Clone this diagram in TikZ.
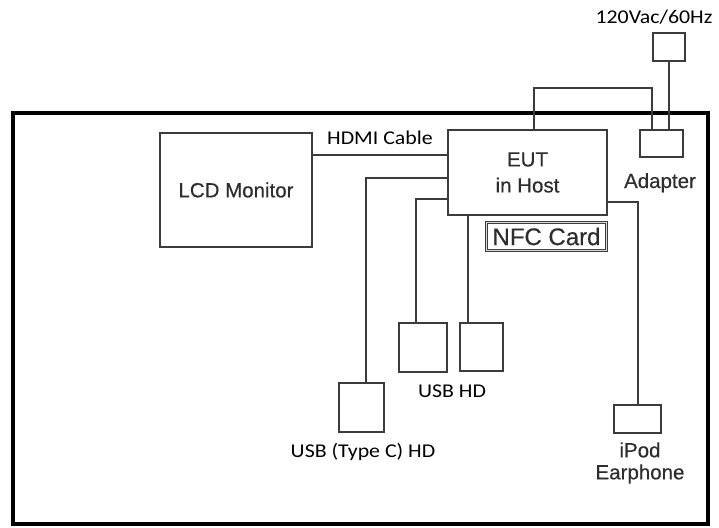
\documentclass[tikz,border=0pt]{standalone}
\usepackage{fontspec}
\setmainfont[FakeBold=0.4]{Liberation Sans}
\newfontfamily\calfont[FakeStretch=1.12]{Carlito}
\usetikzlibrary{positioning}
\definecolor{linegray}{RGB}{60,60,60}
\definecolor{textgray}{RGB}{45,45,45}

\begin{document}
\begin{tikzpicture}[x=1pt,y=-1pt,
  box/.style={draw=linegray,line width=1.9pt,inner sep=0pt,text=textgray},
  cable/.style={draw=linegray,line width=2pt},
  lbl/.style={inner sep=0pt,anchor=base,text=black,font=\calfont\fontsize{19.5}{22}\selectfont},
  every node/.style={font=\fontsize{20.5}{26}\selectfont}]
\useasboundingbox (0,0) rectangle (719,527);
\draw[line width=3.8pt] (13,113) rectangle (708,524);
\node[box,minimum width=152pt,minimum height=114pt] (lcd) at (236,190) {\raisebox{-6pt}{LCD Monitor}};
\node[box,minimum width=159pt,minimum height=85pt,align=center] (eut) at (527.5,172.5) {EUT\\in Host};
\node[box,double=white!85!black,double distance=0.8pt,line width=1.2pt,minimum width=120pt,minimum height=28pt,font=\fontsize{24}{26}\selectfont] (nfc) at (546.5,236.5) {NFC Card};
\node[box,minimum width=43pt,minimum height=27pt] (adapter) at (661.5,143.5) {};
\node[box,minimum width=32pt,minimum height=28pt] (power) at (669,47) {};
\node[box,minimum width=45pt,minimum height=49pt] (usbc) at (361.5,407.5) {};
\node[box,minimum width=48pt,minimum height=49pt] (usb1) at (423,347.5) {};
\node[box,minimum width=43pt,minimum height=48pt] (usb2) at (481.5,347) {};
\node[box,minimum width=47pt,minimum height=28pt] (ipod) at (637.5,419) {};
\node[lbl] (pwrlbl) at (654,24) {120Vac/60Hz};
\node[lbl] (hdmilbl) at (380,144) {HDMI Cable};
\node[lbl] (usblbl) at (452,397) {USB HD};
\node[lbl] (usbclbl) at (363,457) {USB (Type C) HD};
\node[inner sep=0pt,anchor=base,text=textgray] (adlbl) at (660,188) {Adapter};
\node[inner sep=0pt,align=center,text=textgray,font=\fontsize{20.5}{22}\selectfont] (ipodlbl) at (640,463) {iPod\\Earphone};
\coordinate (loop) at (600,88);
\draw[cable] (eut.west |- 0,155) -- (lcd.east |- 0,155);
\draw[cable] (eut.west |- 0,178) -| ([xshift=4.5pt]usbc.north);
\draw[cable] (eut.west |- 0,199) -| ([xshift=-7pt]usb1.north);
\draw[cable] ([xshift=-13.5pt]usb2.north) coordinate (u2) -- (u2 |- eut.south);
\draw[cable] (eut.east |- 0,202) -| (ipod.north);
\draw[cable] ([xshift=6.5pt]eut.north) |- (loop) -| ([xshift=-9.5pt]adapter.north);
\draw[cable] (power.south) -- (power.south |- adapter.north);
\end{tikzpicture}
\end{document}
